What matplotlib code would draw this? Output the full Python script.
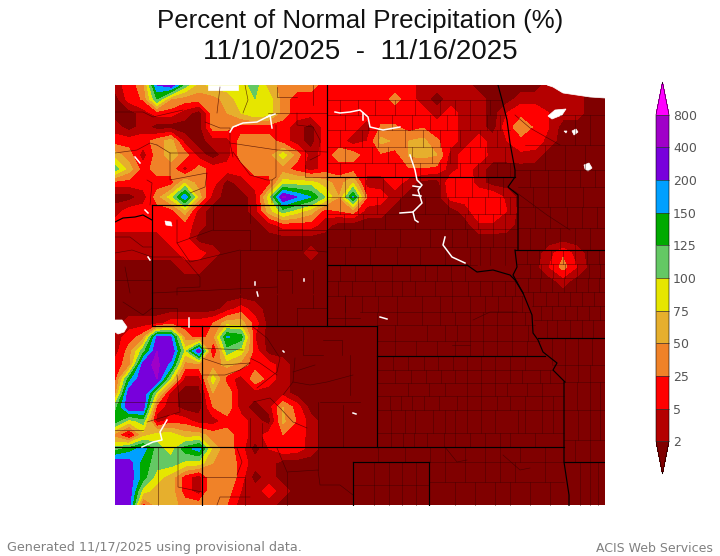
import numpy as np
import matplotlib
matplotlib.use('Agg')
import matplotlib.pyplot as plt
from matplotlib.colors import ListedColormap, BoundaryNorm
from matplotlib.patches import Polygon

# percent of normal, stored as position on the colour bar (0 = under 2%, 1 = 2-5, ... 10 = 400-800)
# one row every 14 map units from north to south, one column every 14 map units from west to east
# columns left out at the east end of a row are under 2%
row_085 = [1,2,3,8.5,9.4,6,4,5,5,5,6,4,3,3,3,2,2,2,2,2,2,2,1,1,1,1,0,0,0,0,0,1,1,1,0,0]
row_099 = [0,2,2.6,6.5,3.5,3,3,3,4,5,5.5,5,3,2,2,2,2,2,2,2,2.8,2,1,0,1,1,1,0,0,1,1,1,1,1,0,0]
row_113 = [0,0,1,2,2,1,0,3,3.5,4.5,5.5,5,3,2,2,2,2,2,2,2,2,2,2,1,2,1,1,0,1.5,2.3,2.3,1.5,1,1,0,0]
row_127 = [1,0,1,0,0,0,0,3,3,2,2,2,2,1,0,2,2,2,1,2.6,2.6,2,2.4,2,2,1,1,0,2.2,2.9,2.4,1.5]
row_141 = [2,2,2,3,4,1,0,1,1,3,3,3,2,1,0,2,2,1,1.5,3.8,3.3,3.5,3.8,2.6,2,1,2,1,1.5,2.3,2.2,1]
row_155 = [4,3,1,3,4,3,1,0,1,3,3,3,5,3,1,2,3,3,2,2.3,2,3.6,3.8,3.5,1,2,2.2,1,1,1.2,1]
row_169 = [6,4,2,3,3,1,3,2,2,2,3,3,3,2,1,2,2,2,2,2,2,2.4,2.4,2.2,1,2,1]
row_183 = [2,2,2,2,2,4.5,3,2,0,1,2,2,5,5,5,4,3,4.5,1,1,2,1,0,0,2.4,2.4,1]
row_197 = [0,0,1,3,5,8.3,4,1,0,0,1,5,9.7,8.5,7.5,5.5,3.5,7.6,2.5,2,1,0,0,0,2,2,2.4,2.4,1.2]
row_211 = [1,2,2,2,2,4,1,0,0,0,1,4,6,5,4,2,2.5,3,1,1,0,0,0,0,0,1,2.3,2.3,1.5]
row_225 = [2,2,2,2,2,2,1,0,0,0,0,1,2,2,2,1,0,0,0,0,0,0,0,0,0,0,1.3,1.3,1]
row_239 = [1,1,1,1,2,2]
row_253 = [1,1,1,1,1,2,2,1,0,0,0,0,0,0,1,0,0,0,0,0,0,0,0,0,0,0,0,0,0,0,0,1,2.3,1]
row_267 = [0,0,0,0,0,1,1,0,0,0,0,0,0,0,0,0,0,0,0,0,0,0,0,0,0,0,0,0,0,0,0,1.5,2.9,1.5]
row_281 = [0,0,0,0,0,0,0,0,0,0,0,0,0,0,0,0,0,0,0,0,0,0,0,0,0,0,0,0,0,0,0,0,1]
row_295 = [0]
row_309 = [0,0,0,0,0,0,0,0,1,2,1]
row_323 = [0,1,1,1,2,2,2,2.5,4,4,2]
row_337 = [1,2,3,8.7,8.5,3,2,3,7.6,7,1.5]
row_351 = [1,3,6,9.5,9.5,5,9.4,1,6,5,2]
row_365 = [2,3,9,9.8,8,3,3,3,3.8,3,2,2,1]
row_379 = [2,7,9.5,9.5,5,1,1,5,2,1,3.3,2,1]
row_393 = [3,9.2,9.5,5,1,0,0,3.5,3.3,1,1,1,1]
row_407 = [6,9.5,9.2,2,1,0,0,2.5,3.3,1,0,1,3.5,2]
row_421 = [7,5,6,1,2,2,1,1,2,2,1,0,3.7,2.4,1]
row_435 = [3,1,4,5,5,4,4,3,3,2,1,2,2.5,2.2,1]
row_449 = [6,7,8,6,5,7,8,4,3,2,0,1.5,2.2,2,1]
row_463 = [9.3,9,7,6,6,5.2,5,3.5,3.5,2,1,1]
row_477 = [9.5,9.2,7,5,4,2,1,3.5,3.5,2,0,1]
row_491 = [9.5,9.2,5,4,4,2,1,3.5,3,1.5,1,2,1]
row_505 = [9.5,9.2,2,4,4,3,3,3.5,2.5,1,1,1]

grid_rows = [row_085, row_099, row_113, row_127, row_141, row_155, row_169, row_183,
             row_197, row_211, row_225, row_239, row_253, row_267, row_281, row_295,
             row_309, row_323, row_337, row_351, row_365, row_379, row_393, row_407,
             row_421, row_435, row_449, row_463, row_477, row_491, row_505]

bar_labels = ['2', '5', '25', '50', '75', '100', '125', '150', '200', '400', '800']
bar_colors = ['#b40000', '#ff0000', '#f08228', '#e6af2d', '#e6e600', '#64c864',
              '#00aa00', '#00a0ff', '#7800dc', '#a000c8']
under_color = '#800000'
over_color = '#ff00ff'

# state lines
state_lines = [
    [(327,85),(327,326)], [(152,205),(327,205)], [(327,177),(515,177)],
    [(152,205),(152,326)], [(152,326),(377,326)], [(202,326),(202,506)],
    [(115,447),(564,447)], [(377,326),(377,447)], [(377,356),(545,356)],
    [(327,265),(467,265)], [(515,250),(605,250)], [(538,338),(605,338)],
    [(564,382),(564,462),(569,495),(569,506)], [(564,462),(605,462)],
    [(353,462),(429,462)], [(429,462),(429,506)], [(353,462),(353,506)],
    [(498,85),(502,100),(507,120),(510,143),(515,170),(515,177),(508,187),(518,195),(518,250)],
    [(515,250),(517,267),(513,275),(523,293)],
    [(467,265),(477,272),(493,270),(510,275),(515,280),(523,293),(532,315),(533,333),
     (538,340),(543,352),(557,363),(553,370),(565,382)],
    [(115,222),(123,218),(135,217),(143,215),(152,220)],
]

# county lines that do not follow a grid
county_lines = [
    [(115,112),(143,112),(153,117),(183,110)], [(205,122),(220,128),(230,128),(230,143),(233,157)],
    [(217,113),(220,87)], [(243,113),(248,100),(245,85)], [(268,113),(327,113)],
    [(277,87),(277,97),(297,97)], [(313,85),(313,105)],
    [(297,113),(297,125),(313,127),(320,140),(320,155),(310,160)],
    [(230,143),(277,150),(327,152)], [(276,125),(276,177),(272,180),(272,203)],
    [(305,150),(305,177),(327,177)], [(233,152),(250,175),(267,180),(272,180)],
    [(157,145),(170,153),(203,153),(233,153)], [(170,153),(170,180),(207,173),(205,187),(190,193)],
    [(115,153),(137,150),(150,143),(157,145)], [(150,205),(152,183),(147,180)],
    [(213,205),(213,230),(250,230),(250,250)], [(250,205),(250,223)],
    [(278,205),(278,250),(240,250),(240,293)], [(302,205),(302,250),(277,250),(277,293)],
    [(278,230),(327,230)], [(307,250),(327,252)], [(313,270),(313,293)], [(292,293),(292,270),(277,270)],
    [(152,257),(183,257),(200,277),(200,287),(177,288),(177,295)],
    [(177,220),(177,243),(213,230)], [(177,243),(190,262),(240,250)], [(152,293),(277,287)],
    [(115,253),(132,250),(152,257)], [(115,237),(130,237),(143,247),(152,247)],
    [(125,267),(130,293)], [(115,280),(152,280)],
    [(123,302),(143,315),(152,308)], [(152,308),(177,308),(177,325)],
    [(240,295),(240,326)], [(277,295),(277,326)], [(297,308),(297,326)], [(313,295),(313,308)],
    [(297,308),(327,308)], [(327,318),(360,318)], [(345,295),(345,325)],
    [(202,348),(243,350)], [(202,358),(223,365),(250,363)], [(202,375),(225,375),(240,370),(250,363)],
    [(250,358),(260,363),(277,375)], [(253,327),(267,338),(280,358),(277,372),(257,388)],
    [(303,327),(303,355),(323,355)], [(323,340),(342,340),(342,355)],
    [(295,358),(293,382),(283,395)], [(293,382),(310,385),(327,382),(353,375)],
    [(293,372),(315,365)], [(350,355),(350,395)], [(320,402),(360,402)],
    [(253,402),(270,398),(280,408),(293,422),(307,428)], [(250,418),(250,447)], [(262,423),(262,447)],
    [(343,405),(343,447)], [(318,402),(318,447)], [(115,402),(202,402)],
    [(177,375),(180,412),(147,422)], [(115,430),(143,430)], [(158,447),(158,505)],
    [(178,447),(178,487),(202,492)], [(202,477),(245,477),(245,505)],
    [(217,505),(220,497),(250,497)], [(237,448),(242,462),(237,475)],
    [(277,448),(287,472),(318,470),(320,485),(340,485),(353,495)], [(318,447),(318,470)],
    [(287,472),(287,505)], [(452,345),(470,345)], [(473,320),(490,312),(517,312)],
    [(515,115),(530,128),(560,145)], [(513,190),(547,215),(570,230)],
    [(445,447),(457,462),(467,460)], [(503,455),(520,470),(530,468)],
]

# county rows: top, bottom, west, east, dividing lines
county_bands = [
    (356,370,377,545,[393,408,424,438,453,467,481,495,510,525]),
    (370,383,377,553,[395,411,426,441,455,467,481,495,510,522,540,550]),
    (383,396,377,564,[408,429,445,467,481,495,507,527,542]),
    (396,410,377,564,[390,401,412,424,439,457,467,481,497,510,525,542,553]),
    (410,433,377,564,[391,405,415,433,445,455,467,481,495,518,525,542,553]),
    (433,447,377,564,[391,403,414,427,444,455,470,485,500,510,535]),
    (265,281,327,477,[340,355,372,392,410,425,437,451,465]),
    (281,296,327,518,[338,352,375,392,402,415,435,452,468,480,492,505,515]),
    (296,312,327,523,[345,362,378,397,422,440,452,470,485,498,512,522]),
    (312,325,360,530,[377,397,422,440,455,470,483,497,512,525]),
    (325,341,377,535,[395,427,445,457,470,483,497,512,528]),
    (341,356,377,540,[395,416,437,455,470,483,497,512,527]),
    (177,197,327,515,[345,365,383,402,420,440,455,472,488,503]),
    (197,214,327,518,[340,358,377,400,425,448,468,485,500,510]),
    (214,229,327,518,[344,363,385,415,445,465,478,493,505]),
    (229,247,327,518,[350,375,400,430,452,467,480,493,505]),
    (247,265,327,518,[345,370,397,420,445,470,480,490,505]),
    (100,115,327,502,[340,358,375,395,415,440,455,470,490]),
    (115,130,327,507,[345,368,392,412,430,447,470,487,500]),
    (130,147,327,510,[340,362,378,405,423,440,460,480,497]),
    (147,163,327,512,[345,372,388,412,432,450,470,485,505]),
    (163,177,327,515,[340,365,395,420,440,460,478,497,510]),
    (250,264,515,605,[527,539,551,563,575,587,599]),
    (264,278,517,605,[530,541,553,565,577,589,600]),
    (278,292,515,605,[528,540,552,564,576,588,599]),
    (292,306,523,605,[533,546,558,570,582,594]),
    (306,320,532,605,[541,552,565,577,589,600]),
    (320,338,534,605,[547,557,570,582,593]),
    (338,365,538,605,[552,565,578,592]),
    (365,382,553,605,[565,578,590]),
    (382,410,564,605,[577,590,600]),
    (410,440,564,605,[578,590,600]),
    (440,462,564,605,[575,590]),
    (462,506,570,605,[580,590,598]),
    (447,462,360,564,[378,405,430,445,465,485,500,520,545]),
    (462,485,353,429,[374,389,402,416]),
    (485,506,353,429,[374,389,402,416]),
    (462,482,429,564,[445,465,485,500,515,545]),
    (482,506,429,564,[455,475,495,510,530,550]),
    (115,145,560,605,[575,590]),
    (145,170,525,605,[545,565,585]),
    (170,187,515,605,[530,548,565,580,595]),
    (187,207,518,605,[533,548,565,583]),
    (207,228,518,605,[535,550,567,582,597]),
    (228,250,518,605,[530,545,560,575,590]),
]

# no data along rivers and over lakes
river_lines = [
    [(230,132),(233,127),(243,123),(257,122),(267,117),(270,115),(272,128)], [(267,117),(275,114)],
    [(135,157),(140,163)], [(145,210),(148,213)], [(148,257),(150,260)], [(255,282),(255,285)],
    [(304,279),(304,281)], [(257,292),(258,296)],
    [(335,112),(340,113),(350,112),(360,110),(368,117),(370,127),(383,130),(400,127)], [(363,113),(363,120)],
    [(410,155),(415,170),(417,180),(422,185),(418,190),(422,203),(413,212),(400,213)],
    [(413,212),(415,220),(418,222)], [(413,186),(420,187)], [(413,195),(421,196)],
    [(445,237),(443,245),(452,257),(465,263)], [(189,318),(189,327)],
    [(167,420),(160,432),(162,440),(153,442),(142,447)], [(283,351),(284,352)], [(353,413),(356,414)],
    [(380,317),(387,319)],
]
nodata_shapes = [
    [(547,85),(553,87),(563,93),(590,97),(605,98),(605,85)],
    [(208,85),(238,85),(238,90),(208,90)],
    [(548,116),(555,110),(566,109),(562,115),(552,119)],
    [(572,131),(576,129),(578,132),(574,135)], [(564,131),(567,131),(566,133)],
    [(584,165),(589,163),(592,168),(588,171),(585,169)],
    [(115,320),(122,320),(127,327),(124,332),(118,334),(115,332)], [(165,221),(171,222),(172,226),(166,225)],
]

fig = plt.figure(figsize=(7.2, 5.56), dpi=100)
ax = fig.add_axes([115/720, (556-505.5)/556, 490/720, 420.5/556])

grid_values = np.zeros((len(grid_rows), 36))
for i, row in enumerate(grid_rows):
    grid_values[i, :len(row)] = row
map_x = 115 + 14*np.arange(grid_values.shape[1])
map_y = 85 + 14*np.arange(grid_values.shape[0])
levels = np.arange(len(bar_labels)) + 0.5

cmap = ListedColormap(bar_colors)
cmap.set_under(under_color)
cmap.set_over(over_color)
norm = BoundaryNorm(levels, cmap.N)
cf = ax.contourf(map_x, map_y, grid_values, levels=levels, cmap=cmap, norm=norm, extend='both')

for top, bottom, west, east, divides in county_bands:
    ax.plot([west, east], [top, top], color='#3a0000', lw=0.4, alpha=0.7)
    for x in divides:
        ax.plot([x, x], [top, bottom], color='#3a0000', lw=0.4, alpha=0.7)
for line in county_lines:
    ax.plot(*zip(*line), color='#3a0000', lw=0.45, alpha=0.75)
for line in state_lines:
    ax.plot(*zip(*line), color='black', lw=0.85)
for line in river_lines:
    ax.plot(*zip(*line), color='white', lw=1.1)
for shape in nodata_shapes:
    ax.add_patch(Polygon(shape, closed=True, fc='white', ec='white', lw=0.5))

ax.set_xlim(115, 605)
ax.set_ylim(505.5, 85)
ax.axis('off')

cax = fig.add_axes([656/720, (556-474)/556, 13/720, 392/556])
cb = fig.colorbar(cf, cax=cax, extend='both', extendfrac=0.1, drawedges=True)
cb.set_ticks(levels)
cb.set_ticklabels(bar_labels)
cb.ax.tick_params(length=0, labelsize=9, labelcolor='#555555', pad=3)
cb.outline.set_linewidth(0.4)
cb.dividers.set_linewidth(0.5)
cb.dividers.set_color('#333333')

fig.text(360/720, 1-21/556, 'Percent of Normal Precipitation (%)', ha='center', va='center',
         family='Liberation Sans', fontsize=18.6, color='#111111')
fig.text(360/720, 1-52/556, '11/10/2025  -  11/16/2025', ha='center', va='center',
         family='Liberation Sans', fontsize=20, color='#111111')
fig.text(7/720, 1-548/556, 'Generated 11/17/2025 using provisional data.', ha='left', va='center',
         fontsize=9.2, color='#808080')
fig.text(713/720, 1-548/556, 'ACIS Web Services', ha='right', va='center', fontsize=9, color='#808080')

plt.savefig('out.png', dpi=100)
